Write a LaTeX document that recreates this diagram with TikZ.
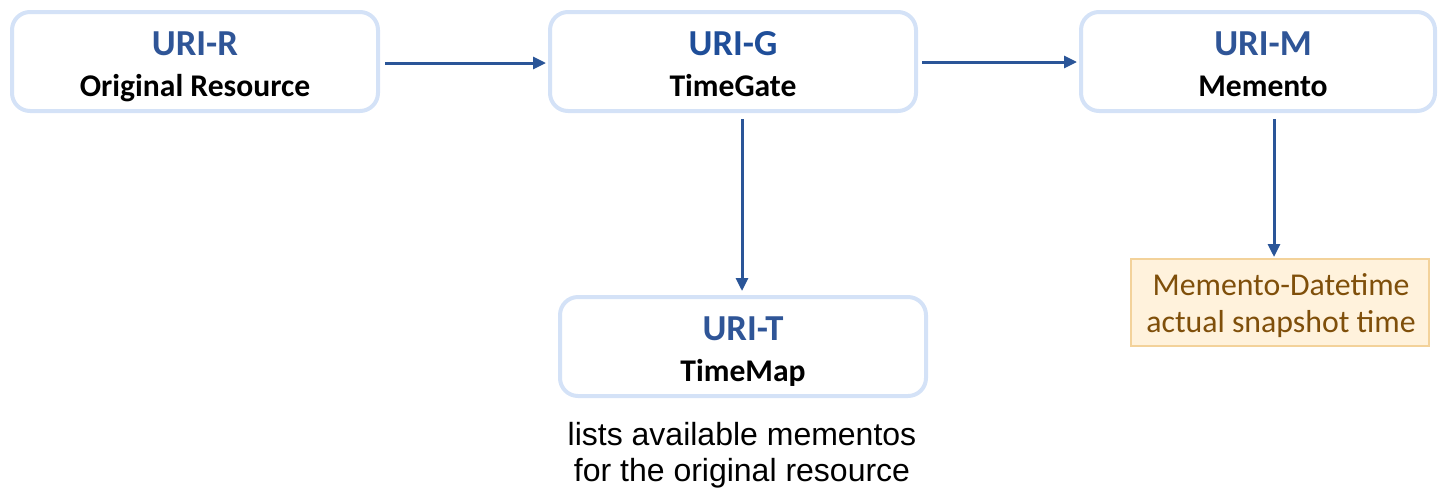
\documentclass[tikz,border=0pt]{standalone}
\usepackage{fontspec}
\setmainfont{Carlito}
\newfontfamily\capfont{Liberation Sans}
\usetikzlibrary{arrows.meta,calc}
\definecolor{boxline}{HTML}{D4E2F7}
\definecolor{titleblue}{HTML}{2F5597}
\definecolor{titlebluedark}{HTML}{1F4E99}
\definecolor{arrowblue}{HTML}{2A5598}
\definecolor{mdfill}{HTML}{FFF2DC}
\definecolor{mdline}{HTML}{F3D29A}
\definecolor{mdtext}{HTML}{7F4F0A}
\tikzset{
  uribox/.style={draw=boxline, line width=2pt, fill=white, rounded corners=9pt, inner sep=0pt},
  titletext/.style={anchor=base, inner sep=0pt, font=\fontsize{18.3}{20}\selectfont\bfseries, text=titleblue},
  subtext/.style={anchor=base, inner sep=0pt, font=\fontsize{15.8}{18}\selectfont\bfseries, text=black},
  arr/.style={draw=arrowblue, line width=1.5pt, -{Triangle[length=6.5pt,width=6pt]}},
  mdbox/.style={draw=mdline, line width=1pt, fill=mdfill, inner sep=0pt},
  mdtextstyle/.style={anchor=base, inner sep=0pt, font=\fontsize{15.9}{18}\selectfont, text=mdtext},
  captext/.style={anchor=base, inner sep=0pt, font=\capfont\fontsize{16}{18}\selectfont, text=black}
}
\begin{document}
\begin{tikzpicture}[x=0.5pt,y=-0.5pt]
\useasboundingbox (0,0) rectangle (1439,489);
% boxes
\node[uribox, minimum width=183pt, minimum height=49.5pt] (R) at (195,61.5) {};
\node[uribox, minimum width=183pt, minimum height=49.5pt] (G) at (733,61.5) {};
\node[uribox, minimum width=177pt, minimum height=49.5pt] (M) at (1258,61.5) {};
\node[uribox, minimum width=183pt, minimum height=49.5pt] (T) at (743,346.5) {};
\node[mdbox, minimum width=149pt, minimum height=43.5pt] (MD) at (1280,302.5) {};
% texts
\node[titletext] (Rt) at (195,55) {URI-R};
\node[subtext] (Rs) at (195,96) {Original Resource};
\node[titletext, text=titlebluedark] (Gt) at (733,55) {URI-G};
\node[subtext] (Gs) at (733,96) {TimeGate};
\node[titletext] (Mt) at (1263,55) {URI-M};
\node[subtext] (Ms) at (1263,96) {Memento};
\node[titletext] (Tt) at (743,340) {URI-T};
\node[subtext] (Ts) at (743,381) {TimeMap};
\node[mdtextstyle] (MD1) at (1281,295) {Memento-Datetime};
\node[mdtextstyle] (MD2) at (1281,332) {actual snapshot time};
\node[captext] (C1) at (742,445) {lists available mementos};
\node[captext] (C2) at (742,481) {for the original resource};
% arrows
\draw[arr, shorten <=2.5pt, shorten >=1pt] (R.east |- 0,63) -- (G.west |- 0,63);
\draw[arr, shorten <=2pt, shorten >=1pt] (G.east |- 0,62) -- (M.west |- 0,62);
\draw[arr, shorten <=3pt, shorten >=2pt] (G.south -| 742,0) -- (T.north -| 742,0);
\draw[arr, shorten <=3pt, shorten >=0.5pt] (M.south -| 1274,0) -- (MD.north -| 1274,0);
\end{tikzpicture}
\end{document}
